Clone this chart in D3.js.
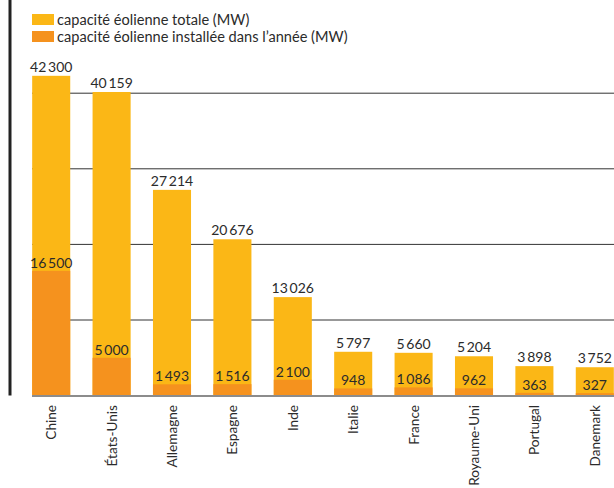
<!DOCTYPE html>
<html>
<head>
<meta charset="utf-8">
<script src="https://cdn.jsdelivr.net/npm/d3@7"></script>
<style>
  body { margin: 0; background: #fff; }
  svg { display: block; font-family: Lato, "Noto Sans", sans-serif; }
</style>
</head>
<body>
<svg id="chart"></svg>
<script>
// data
var pays = ["Chine", "États-Unis", "Allemagne", "Espagne", "Inde", "Italie", "France", "Royaume-Uni", "Portugal", "Danemark"];
var totale = [42300, 40159, 27214, 20676, 13026, 5797, 5660, 5204, 3898, 3752];
var installee = [16500, 5000, 1493, 1516, 2100, 948, 1086, 962, 363, 327];
var legende = ["capacité éolienne totale (MW)", "capacité éolienne installée dans l’année (MW)"];
var grille = [10000, 20000, 30000, 40000];

var jaune = "#fbb716", orange = "#f5921e", texte = "#2b2b2b";

var svg = d3.select("#chart")
    .attr("width", 614)
    .attr("height", 488);

var x = d3.scaleBand()
    .domain(pays)
    .range([21, 625])
    .paddingInner(0.37)
    .paddingOuter(0.185);

var y = d3.scaleLinear()
    .domain([0, 10000])
    .range([395.6, 320]);

var fmt = function(v) { return d3.format(",")(v).replace(",", "\u2009"); };

// gridlines
svg.selectAll("line.grid")
    .data(grille)
    .enter()
        .append("line")
        .attr("class", "grid")
        .attr("x1", 32)
        .attr("x2", 614)
        .attr("y1", function(d) { return y(d); })
        .attr("y2", function(d) { return y(d); })
        .attr("stroke", "#333")
        .attr("stroke-width", 1);

var data = pays.map(function(p, i) { return {pays: p, tot: totale[i], inst: installee[i]}; });

svg.selectAll("rect.tot")
    .data(data)
    .enter()
        .append("rect")
        .attr("x", function(d) { return x(d.pays); })
        .attr("width", x.bandwidth())
        .attr("y", function(d) { return y(d.tot); })
        .attr("height", function(d) { return y(0) - y(d.tot); })
        .attr("fill", jaune);

svg.selectAll("rect.inst")
    .data(data)
    .enter()
        .append("rect")
        .attr("x", function(d) { return x(d.pays); })
        .attr("width", x.bandwidth())
        .attr("y", function(d) { return y(d.inst); })
        .attr("height", function(d) { return y(0) - y(d.inst); })
        .attr("fill", orange);

// value labels
svg.selectAll("text.tot")
    .data(data)
    .enter()
        .append("text")
        .attr("x", function(d) { return x(d.pays) + x.bandwidth() / 2; })
        .attr("y", function(d) { return y(d.tot) - 4; })
        .attr("text-anchor", "middle")
        .attr("font-size", 14)
        .attr("fill", texte)
        .text(function(d) { return fmt(d.tot); });

svg.selectAll("text.inst")
    .data(data)
    .enter()
        .append("text")
        .attr("x", function(d) { return x(d.pays) + x.bandwidth() / 2; })
        .attr("y", function(d) { return y(d.inst) - 3; })
        .attr("text-anchor", "middle")
        .attr("font-size", 14)
        .attr("fill", texte)
        .text(function(d) { return fmt(d.inst); });

// baseline
svg.append("line")
    .attr("x1", 32).attr("x2", 614)
    .attr("y1", y(0) + 0.5).attr("y2", y(0) + 0.5)
    .attr("stroke", "#8c8c8c")
    .attr("stroke-width", 2);

// left vertical rule
svg.append("line")
    .attr("x1", 10).attr("x2", 10)
    .attr("y1", 0).attr("y2", y(0))
    .attr("stroke", "#222")
    .attr("stroke-width", 3);

// category labels
svg.selectAll("text.pays")
    .data(pays)
    .enter()
        .append("text")
        .attr("transform", function(d) {
            return "translate(" + (x(d) + x.bandwidth() / 2 + 5) + "," + 405 + ") rotate(-90)";
        })
        .attr("text-anchor", "end")
        .attr("font-size", 13.6)
        .attr("fill", texte)
        .text(function(d) { return d; });

// legend
var leg = svg.append("g");
leg.selectAll("rect")
    .data(legende)
    .enter()
        .append("rect")
        .attr("x", 32)
        .attr("y", function(d, i) { return 14 + i * 17; })
        .attr("width", 22)
        .attr("height", 11)
        .attr("fill", function(d, i) { return i == 0 ? jaune : orange; });
leg.selectAll("text")
    .data(legende)
    .enter()
        .append("text")
        .attr("x", 57)
        .attr("y", function(d, i) { return 25 + i * 17; })
        .attr("font-size", 14.6)
        .attr("fill", texte)
        .text(function(d) { return d; });
</script>
</body>
</html>
